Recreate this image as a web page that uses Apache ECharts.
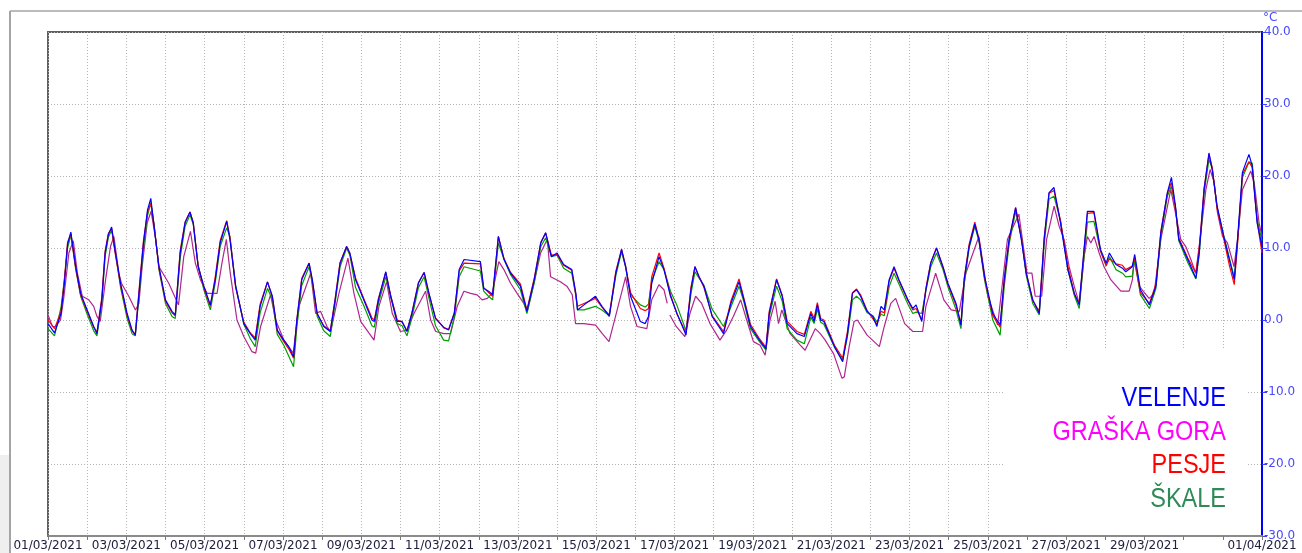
<!DOCTYPE html>
<html>
<head>
<meta charset="utf-8" />
<style>
  html, body { margin: 0; padding: 0; background: #fff; }
  #main { width: 1302px; height: 553px; }
</style>
</head>
<body>
<div id="main"></div>
<script src="https://cdn.jsdelivr.net/npm/echarts@6/dist/echarts.min.js"></script>
<script>
// x = hours since 01/03/2021 00:00, y = air temperature in °C
const dateLabels = [
  '01/03/2021', '', '03/03/2021', '', '05/03/2021', '', '07/03/2021', '', '09/03/2021', '',
  '11/03/2021', '', '13/03/2021', '', '15/03/2021', '', '17/03/2021', '', '19/03/2021', '',
  '21/03/2021', '', '23/03/2021', '', '25/03/2021', '', '27/03/2021', '', '29/03/2021', '',
  '', '01/04/2021'
];

const stationNames = ['VELENJE', 'GRAŠKA GORA', 'PESJE', 'ŠKALE'];

const velenje = [
  [0,-0.5],[4,-1.8],[8,0.9],[10,5],[12,10.5],[14,12.2],[17,7.4],[20,3.7],[24,1.4],[28,-0.9],[30,-1.9],
  [33,2.8],[35,9.3],[37,11.9],[39,12.9],[41,9.8],[44.5,5.1],[48.5,0.9],[51.5,-1.4],[53.5,-2.1],
  [56.5,5.6],[58.5,10.7],[61,15.3],[63,16.9],[65,13],[68,7.4],[72,2.8],[76,1.2],[78,0.7],
  [81,9.3],[84,13.5],[87,15],[89,13.5],[92,7.4],[95.5,4.7],[99.5,2.1],
  [102.5,5.6],[105.5,10.7],[109.5,13.7],[111.5,11.2],[115,4.7],[120,-0.5],[124,-1.9],[127,-2.8],
  [130,1.9],[134.5,5.3],[137.5,3.3],[140.5,-1.4],[144.5,-2.8],[147.5,-3.7],[150.5,-5.1],
  [152.5,0],[155.5,5.6],[160,7.9],[162,5.6],[165,0.9],[169,-0.9],[173,-1.6],
  [176,2.8],[179,7.9],[183,10.2],[185,9.3],[188.5,5.6],[193.5,2.8],[198.5,0],[200,-0.2],
  [202.5,2.8],[207,6.7],[210,3.3],[214,-0.2],[217,-0.2],[220,-1.6],
  [223,0.9],[227,5.1],[230.5,6.6],[233.5,3.7],[237.5,0.2],[242.5,-1],[245.5,-1.4],
  [249,0.9],[252,7.0],[255,8.4],[265,8.1],[267,4.4],[270,4.0],[272.5,3.5],
  [276,11.6],[279.5,8.4],[283.5,6.5],[289.5,4.7],[293.5,1.2],
  [298,5.6],[302,10.7],[305,12.1],[308.5,8.8],[312,9.3],[316,7.7],[321,7.0],[323.5,3.7],[324.5,1.4],
  [328.5,2.1],[335.5,3.3],[339.5,1.9],[344,0.5],[348,6.5],[351.5,9.8],[354,7.4],[357,3.3],[363,-0.2],[366,-0.5],
  [368,0.5],[370,5.1],[374.5,8.8],[377.5,7.0],[381.5,3.3],[385.5,0.9],[391,-2.1],
  [394,4.2],[396.5,7.4],[399,6.0],[402,4.7],[407,0.5],[414,-1.9],
  [418.5,2.3],[423.5,5.3],[426.5,2.8],[430.5,-0.9],[436,-2.8],[440,-4.0],
  [442,0.9],[446.5,5.6],[450,3.3],[453,-0.5],[459,-1.9],[463.5,-2.3],
  [467.5,0.9],[469.5,-0.2],[471.5,2.1],[473.5,0],[475.5,-0.2],[482,-3.7],[487,-5.8],
  [490,-1.9],[493,3.7],[495.5,4.2],[498,3.3],[502,1.2],[505.5,0.5],[508,-0.9],[510.5,1.9],[512.5,1.4],
  [515.5,5.6],[518.5,7.4],[521.5,5.6],[527,2.8],[530,1.6],[532,2.1],[535.5,-0.2],
  [538,4.2],[541,7.9],[544.5,10.0],[548.5,7.4],[551.5,5.1],[556.5,2.3],[559.5,-0.7],
  [561.5,5.6],[564.5,10.2],[568,13.3],[570.5,11.2],[574,6.0],[579,0.9],[583.5,-0.7],
  [586,5.6],[589,11.2],[593,15.6],[596.5,11.2],[599.5,6.5],[603.5,2.8],[607.5,0.9],
  [610.5,11.2],[613.5,17.7],[616.5,18.4],[620.5,13.5],[625,7.0],[629,3.7],[632,2.1],
  [634,7.4],[637,15.1],[641,15.1],[645,9.8],[648.5,7.9],[650.5,9.3],[654.5,7.7],[658.5,7.2],[660.5,6.7],[664.5,7.4],[666,9.1],
  [669.5,4.2],[675,2.1],[679,4.7],[682,12.1],[686,17.7],[688.5,19.8],[691,15.8],[693,11.2],[698.5,8.4],[703.5,5.8],
  [705.5,9.3],[708.5,18.1],[711.5,23.2],[713.5,20.9],[716.5,15.8],[721,11.2],[724,8.4],[727,5.6],
  [729,11.2],[732,20.5],[736,23.0],[738,21.4],[741,13.5],[744,10.2]
];

const graskaGora = [
  [0,0.7],[2.7,-0.9],[4.7,-0.9],[7.7,0],[9.8,3.3],[12.8,9.3],[15.5,11],[18,6.5],[21,3.3],[25,2.8],[28,1.9],[30,0.5],[32,-0.2],
  [35.3,5.6],[38.3,10.2],[40.4,11.6],[43.4,6.5],[45,5.1],[49.5,3.3],[53.6,1.4],[55.7,2.3],
  [57.7,7.4],[60.8,13.5],[63.2,15.1],[66,11.2],[68,7.4],[74,5.1],[80,2.1],
  [83.2,8.8],[87.3,12.3],[90.3,7.9],[93.4,5.6],[97.5,3.7],[103.6,3.7],
  [106.6,7.9],[109.3,11.2],[111.7,6.5],[115.8,0],[120,-2.3],[125,-4.4],[127.3,-4.6],
  [130.3,-0.9],[136.4,3.5],[139.5,0],[144.6,-2.8],[150.3,-4.6],
  [153.8,1.9],[161,6.5],[164,0.9],[167,1.2],[171,-0.9],[173.2,-1.6],
  [178.3,3.7],[183.8,8.6],[187.5,3.7],[191.6,-0.2],[199.8,-2.8],
  [202.8,1.9],[207.5,5.3],[211,0.9],[216,-1.6],[220,-1.4],
  [224.3,0.9],[231.4,4.0],[234.5,0],[237.6,-1.6],[242.6,-1.9],[246.7,-1.9],
  [250.8,1.9],[254.9,4.0],[259,3.7],[263,3.5],[266,2.8],[269.2,3.0],[272.2,3.7],
  [276.3,8.1],[279.4,7.0],[283.5,5.1],[287.5,3.7],[291.6,2.3],[293.7,1.2],
  [297.8,5.1],[301.9,9.3],[306,11.2],[308,6.0],[314,5.3],[318,4.7],[321.3,3.5],[323.3,-0.5],
  [328.5,-0.5],[335.6,-0.7],[339.7,-1.9],[343.8,-3.0],[347.8,0.5],[354,6.0],[357,1.9],[361,-0.9],[367,-1.2],
  [370,2.8],[374.4,4.9],[377.5,4.2],[379.5,2.3],[380.3,'-'],[381.1,0.7],[385,-0.9],[390.3,-2.3],
  [393.4,0.9],[396.9,3.3],[400.6,2.3],[405.7,-0.5],[411.8,-2.8],[415.9,-1.4],
  [420,0.5],[424.5,2.8],[428.2,0],[432.3,-3.0],[436.4,-3.5],[439.5,-4.9],
  [442.5,0],[445.6,2.6],[447.7,-0.5],[449.7,1.4],[454.8,-1.9],[461,-3.5],[464,-4.2],
  [470.2,-1.2],[473.3,-1.9],[476.3,-2.8],[481.5,-4.7],[486.6,-8.1],[488,-7.9],
  [491,-3.7],[494,-0.2],[496,0],[502,-2.1],[509.5,-3.7],[512.5,-0.9],
  [516.5,2.3],[519.5,3.0],[525,-0.5],[530,-1.6],[536,-1.6],
  [538,1.9],[544,6.5],[549,2.8],[553.5,1.4],[558.5,1.2],
  [562.5,6.5],[570.5,11.6],[576,3.3],[582,-0.7],
  [588,11.2],[595,14.7],[600,6.5],[603,6.5],[605,3.3],[609,3.3],
  [612,11.2],[616.6,15.8],[619.7,13.0],[622.7,11.2],[625.8,7.4],[628.9,4.7],[632,2.3],
  [635,8.8],[637,11.6],[639.1,10.7],[641.1,11.6],[644.2,9.3],[647.2,7.4],[651.3,5.6],[657.5,4.0],[662.6,4.0],[664.6,5.6],[665.6,8.4],
  [668.7,4.7],[674.8,3.0],[677.9,3.7],[682,11.2],[688.1,18.1],[692.2,13.5],[694.2,11.2],[697.3,10.2],[700.4,8.4],[703.4,6.5],
  [706.5,12.1],[709.6,18.1],[712.2,20.9],[714.7,19.1],[716.7,14.9],[719.8,11.6],[722.8,10.7],[726.9,7.4],
  [729,11.2],[732,18.1],[737.1,20.7],[739.2,19.1],[742.2,13.5],[744,11.6]
];

const pesje = [
  [0,0],[4,-1.2],[8,1.2],[10,5.5],[12,10.8],[14,12.0],[17,7.2],[20,3.5],[24,1.2],[28,-1.0],[30,-1.7],
  [33,3.2],[35,9.6],[37,12.0],[39,12.7],[41,9.5],[44.5,4.8],[48.5,0.6],[51.5,-1.5],[53.5,-2.0],
  [56.5,6.0],[58.5,11],[61,15],[63,16.2],[65,13.2],[68,7.2],[72,2.6],[76,1.0],[78,0.6],
  [81,9.6],[84,13.6],[87,15],[89,13.6],[92,7.6],[95.5,4.5],[99.5,1.9],
  [102.5,6],[105.5,11],[109.5,13.8],[111.5,11.5],[115,4.5],[120,-0.3],[124,-1.8],[127,-2.5],
  [130,2.2],[134.5,5.3],[137.5,3.2],[140.5,-1.5],[144.5,-3.0],[147.5,-4.0],[150.5,-5.3],
  [152.5,0],[155.5,5.8],[160,7.9],[162,5.4],[165,0.8],[169,-0.8],[173,-1.5],
  [176,3],[179,8],[183,10.2],[185,9.2],[188.5,5.8],[193.5,3],[198.5,0.3],[200,0],
  [202.5,3],[207,6.6],[210,3.4],[214,0],[217,-0.3],[220,-1.5],
  [223,1],[227,5.2],[230.5,6.6],[233.5,3.6],[237.5,0.3],[242.5,-1.1],[245.5,-1.3],
  [249,1.0],[252,6.8],[255,7.9],[265,7.8],[267,4.5],[270,3.8],[272.5,3.3],
  [276,11.6],[279.5,8.5],[283.5,6.6],[289.5,5.0],[293.5,1.4],
  [298,5.8],[302,10.8],[305,12.1],[308.5,9.0],[312,9.1],[316,7.6],[321,6.9],[323.5,3.5],[324.5,1.9],
  [328.5,2.3],[335.5,3.0],[339.5,1.8],[344,0.7],[348,6.8],[351.5,9.8],[354,7.5],[357,3.8],[363,1.6],[366,1.3],
  [368,1.6],[370,6],[374.5,9.3],[377.5,7.2],[381.5,3.5],[385.5,0.8],[391,-1.8],
  [394,4.5],[396.5,7.4],[399,6],[402,4.5],[407,0.6],[414,-1.6],
  [418.5,2.6],[423.5,5.7],[426.5,3],[430.5,-0.6],[436,-2.6],[440,-3.8],
  [442,1.2],[446.5,5.7],[450,3.4],[453,-0.2],[459,-1.6],[463.5,-2.0],
  [467.5,1.2],[469.5,0.2],[471.5,2.4],[473.5,0.2],[475.5,0],[482,-3.5],[487,-5.3],
  [490,-1.5],[493,3.8],[495.5,4.3],[498,3.5],[502,1.3],[505.5,0.2],[508,-0.6],[510.5,1.2],[512.5,1.0],
  [515.5,5.4],[518.5,7.2],[521.5,5.5],[527,2.7],[530,1.4],[532,1.6],[535.5,0.0],
  [538,4.4],[541,8],[544.5,10],[548.5,7.3],[551.5,5.0],[556.5,2.0],[559.5,-0.5],
  [561.5,5.8],[564.5,10.5],[568,13.6],[570.5,11.3],[574,5.8],[579,0.6],[583.5,-1.0],
  [586,5.4],[589,11],[593,15.6],[596.5,11.4],[599.5,6.6],[603.5,2.7],[607.5,1.2],
  [610.5,11.4],[613.5,17.6],[616.5,18.0],[620.5,13.8],[625,7.5],[629,3.6],[632,2.3],
  [634,7.2],[637,14.8],[641,14.9],[645,9.6],[648.5,7.6],[650.5,8.5],[654.5,7.8],[658.5,7.6],[660.5,7.0],[664.5,7.5],[666,8.6],
  [669.5,3.8],[675,2.3],[679,5.0],[682,12.3],[686,17.6],[688.5,19.1],[691,15.5],[693,11.4],[698.5,8.6],[703.5,6.5],
  [705.5,9.8],[708.5,18.3],[711.5,23.0],[713.5,21.2],[716.5,15.5],[721,10.8],[724,7.6],[727,4.9],
  [729,10.5],[732,20.2],[736,22.0],[738,21.2],[741,13.8],[744,9.3]
];

const skale = [
  [0,-1.2],[4,-2.2],[8,1.8],[10,5.5],[12,10],[14,11.8],[17,7.0],[20,3.3],[24,0.8],[28,-1.5],[30,-2.2],
  [33,2.5],[35,8.8],[37,11.5],[39,12.5],[41,9.8],[44.5,4.5],[48.5,0.2],[51.5,-1.9],[53.5,-2.2],
  [56.5,5.0],[58.5,10],[61,14.5],[63,16.3],[65,13.3],[68,7.0],[72,2.3],[76,0.5],[78,0.2],
  [81,8.6],[84,13],[87,14.6],[89,13.3],[92,7.6],[95.5,4.2],[99.5,1.4],
  [102.5,5.2],[105.5,10.2],[109.5,12.8],[111.5,11.6],[115,4.8],[120,-0.6],[124,-2.6],[127,-3.7],
  [130,1.0],[134.5,4.4],[137.5,2.8],[140.5,-2.0],[144.5,-3.5],[147.5,-5.0],[150.5,-6.5],
  [152.5,-1.0],[155.5,4.8],[160,7.4],[162,5.2],[165,0.5],[169,-1.5],[173,-2.3],
  [176,2.4],[179,7.4],[183,10.0],[185,9.0],[188.5,4.5],[193.5,2.0],[198.5,-0.8],[200,-1.0],
  [202.5,2.3],[207,6.0],[210,3.3],[214,-0.5],[217,-0.8],[220,-2.2],
  [223,0.3],[227,4.5],[230.5,6.0],[233.5,3.0],[237.5,-0.8],[242.5,-2.8],[245.5,-2.9],
  [249,0.4],[252,6.0],[255,7.4],[265,6.8],[267,4.0],[270,3.3],[272.5,2.8],
  [276,10.7],[279.5,8.4],[283.5,6.3],[289.5,4.2],[293.5,0.9],
  [298,5.2],[302,10.2],[305,11.4],[308.5,8.8],[312,9.0],[316,7.2],[321,6.5],[323.5,3.3],[324.5,1.4],
  [328.5,1.4],[335.5,1.9],[339.5,1.4],[344,0.6],[348,6.2],[351.5,9.5],[354,7.3],[357,3.5],[363,2.1],[366,1.8],
  [368,2.2],[370,5.5],[374.5,8.1],[377.5,7.0],[381.5,4.0],[385.5,2.0],[391,-1.5],
  [394,3.6],[396.5,6.7],[399,5.8],[402,4.8],[407,1.5],[414,-0.9],
  [418.5,1.8],[423.5,4.7],[426.5,2.5],[430.5,-1.2],[436,-3.0],[440,-4.2],
  [442,0.5],[446.5,4.7],[450,2.6],[453,-1.2],[459,-2.8],[463.5,-3.3],
  [467.5,0.4],[469.5,-0.5],[471.5,1.5],[473.5,-0.3],[475.5,-0.6],[482,-3.8],[487,-5.6],
  [490,-2.2],[493,2.8],[495.5,3.3],[498,2.8],[502,1.0],[505.5,0.6],[508,-0.3],[510.5,0.8],[512.5,0.6],
  [515.5,4.6],[518.5,6.5],[521.5,5.0],[527,2.2],[530,0.9],[532,1.1],[535.5,0.9],
  [538,4.0],[541,7.4],[544.5,9.3],[548.5,7.0],[551.5,4.6],[556.5,1.4],[559.5,-1.2],
  [561.5,5.0],[564.5,10.0],[568,13.0],[570.5,11.0],[574,5.5],[579,0.0],[583.5,-2.1],
  [586,4.6],[589,10.5],[593,15.1],[596.5,11.6],[599.5,6.2],[603.5,2.3],[607.5,0.7],
  [610.5,10.5],[613.5,16.8],[616.5,17.2],[620.5,13.8],[625,7.0],[629,3.4],[632,1.6],
  [634,6.5],[637,13.6],[641,13.7],[645,9.6],[648.5,7.5],[650.5,8.8],[654.5,7.0],[658.5,6.5],[660.5,6.0],[664.5,6.1],[666,8.4],
  [669.5,3.5],[675,1.6],[679,4.4],[682,11.6],[686,17.2],[688.5,18.6],[691,15.5],[693,11.0],[698.5,8.0],[703.5,5.7],
  [705.5,9.0],[708.5,17.6],[711.5,22.3],[713.5,21.0],[716.5,15.6],[721,11.3],[724,8.6],[727,5.9],
  [729,10.8],[732,19.8],[736,21.9],[738,21.8],[741,14.0],[744,11.0]
];

const lineColors = { VELENJE: '#0000ff', 'GRAŠKA GORA': '#b0268e', PESJE: '#ff0000', 'ŠKALE': '#00a000' };
const textColors = ['#0000ff', '#ff00ff', '#ff0000', '#2e8b57'];
const seriesData = { VELENJE: velenje, 'GRAŠKA GORA': graskaGora, PESJE: pesje, 'ŠKALE': skale };

const chart = echarts.init(document.getElementById('main'), null, { renderer: 'canvas' });

const labelFont = '"DejaVu Sans", Verdana, sans-serif';
const dotted = { color: '#b4b4b4', width: 1, type: [1, 2] };

// draw order: magenta under, blue on top
const drawOrder = ['GRAŠKA GORA', 'ŠKALE', 'PESJE', 'VELENJE'];

const legendTexts = stationNames.map((name, i) => ({
  type: 'text',
  x: 1226,
  y: 399 + i * 33.5,
  scaleX: 0.87,
  z: 20,
  style: {
    text: name,
    fill: textColors[i],
    font: '27px "Liberation Sans", Arial, sans-serif',
    textAlign: 'right',
    textVerticalAlign: 'middle'
  }
}));

const option = {
  animation: false,
  backgroundColor: '#fff',
  grid: {
    left: 48, right: 40, top: 32, bottom: 17,
    show: true, borderColor: '#5e5e5e', borderWidth: 2, backgroundColor: 'transparent'
  },
  xAxis: {
    type: 'value',
    min: 0, max: 744, interval: 24,
    axisLine: { show: true, onZero: false, lineStyle: { color: '#8a8a8a', width: 2 } },
    axisTick: { show: true, length: 4, lineStyle: { color: '#7a7a7a' } },
    axisLabel: {
      margin: 4,
      fontFamily: labelFont, fontSize: 12, color: '#202040',
      showMinLabel: true, showMaxLabel: true, hideOverlap: false,
      formatter: v => dateLabels[Math.round(v / 24)] || ''
    },
    splitLine: { show: true, lineStyle: dotted }
  },
  yAxis: {
    type: 'value',
    position: 'right',
    min: -30, max: 40, interval: 10,
    axisLine: { show: true, onZero: false, lineStyle: { color: '#0000ff', width: 2 } },
    axisTick: { show: true, length: 5, lineStyle: { color: '#4040ff' } },
    axisLabel: {
      margin: 2,
      fontFamily: labelFont, fontSize: 12, color: '#4848ff',
      formatter: v => v.toFixed(1)
    },
    splitLine: { show: true, lineStyle: dotted }
  },
  series: drawOrder.map(name => ({
    name: name,
    type: 'line',
    data: seriesData[name],
    showSymbol: false,
    symbol: 'none',
    connectNulls: false,
    lineStyle: { color: lineColors[name], width: 1.2 },
    itemStyle: { color: lineColors[name] }
  })),
  graphic: [
    // outer frame of the original screenshot
    { type: 'line', z: 5, shape: { x1: 10, y1: 11, x2: 1302, y2: 11 }, style: { stroke: '#a4a4a4', lineWidth: 1.5 } },
    { type: 'line', z: 5, shape: { x1: 10, y1: 11, x2: 10, y2: 553 }, style: { stroke: '#a4a4a4', lineWidth: 2 } },
    { type: 'rect', z: 1, shape: { x: 0, y: 455, width: 9, height: 98 }, style: { fill: '#efefef' } },
    // white box behind the station names
    { type: 'rect', z: 10, shape: { x: 1005, y: 350, width: 242, height: 185 }, style: { fill: '#ffffff' } },
    {
      type: 'text', x: 1263, y: 18, z: 20,
      style: { text: '°C', fill: '#4848ff', font: '12px "DejaVu Sans", Verdana, sans-serif', textAlign: 'left', textVerticalAlign: 'middle' }
    }
  ].concat(legendTexts)
};

chart.setOption(option);
</script>
</body>
</html>
